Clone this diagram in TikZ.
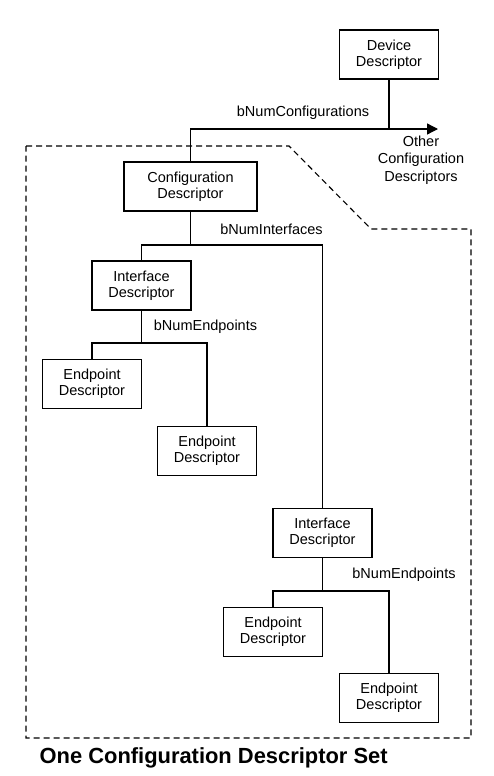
\documentclass[tikz,border=0pt]{standalone}
\usepackage{fontspec}
\setmainfont{Liberation Sans}
\usetikzlibrary{arrows.meta}
\begin{document}
\begin{tikzpicture}[x=1pt,y=-1pt,
  line width=1.3pt,
  descbox/.style={draw, line width=1.3pt, minimum width=99pt, minimum height=49pt, inner sep=0pt, align=center, font=\fontsize{14.5}{16}\selectfont},
  lbl/.style={inner sep=0pt, font=\fontsize{14.5}{16}\selectfont},
  conn/.style={draw, line width=1.3pt},
  setline/.style={draw, line width=1.1pt, dash pattern=on 6pt off 4pt}
]
\useasboundingbox (0,0) rectangle (493,776);
\fill[white] (0,0) rectangle (493,776);

% boxes
\node[descbox] (dev) at (389,54.5) {Device\\Descriptor};
\node[descbox, minimum width=133pt] (conf) at (190.5,186.5) {Configuration\\Descriptor};
\node[descbox] (if1) at (141.5,285.5) {Interface\\Descriptor};
\node[descbox] (ep1) at (92,384) {Endpoint\\Descriptor};
\node[descbox] (ep2) at (207,451) {Endpoint\\Descriptor};
\node[descbox] (if2) at (322.5,533) {Interface\\Descriptor};
\node[descbox] (ep3) at (273,632) {Endpoint\\Descriptor};
\node[descbox] (ep4) at (389,698) {Endpoint\\Descriptor};

% junction coordinates
\coordinate (tip) at (438,129);
\coordinate (j1) at (0,245);
\coordinate (j2) at (0,343);
\coordinate (j3) at (0,591);

% connectors
\draw[conn] (dev.south) -- (dev.south |- tip);
\draw[conn, -{Triangle[length=11pt,width=11pt]}] (conf.north) |- (tip);
\draw[conn] (conf.south) -- (conf.south |- j1);
\draw[conn] (if1.north) |- (if2.north |- j1) -- (if2.north);
\draw[conn] (if1.south) -- (if1.south |- j2);
\draw[conn] (ep1.north) |- (ep2.north |- j2) -- (ep2.north);
\draw[conn] (if2.south) -- (if2.south |- j3);
\draw[conn] (ep3.north) |- (ep4.north |- j3) -- (ep4.north);

% labels
\node[lbl] (lconf) at (303,113) {bNumConfigurations};
\node[lbl, align=center, font=\fontsize{14.5}{17.5}\selectfont] (other) at (421,160) {Other\\Configuration\\Descriptors};
\node[lbl] (lif) at (271.5,229) {bNumInterfaces};
\node[lbl] (lep1) at (205.5,327) {bNumEndpoints};
\node[lbl] (lep2) at (404,575) {bNumEndpoints};

% dashed set boundary
\draw[setline] (26,146) -- (289,146) -- (371,229) -- (471,229) -- (471,738) -- (26,738) -- cycle;

\node[inner sep=0pt, anchor=west, font=\fontsize{21.9}{24}\selectfont\bfseries] (title) at (39,758) {One Configuration Descriptor Set};
\end{tikzpicture}
\end{document}
